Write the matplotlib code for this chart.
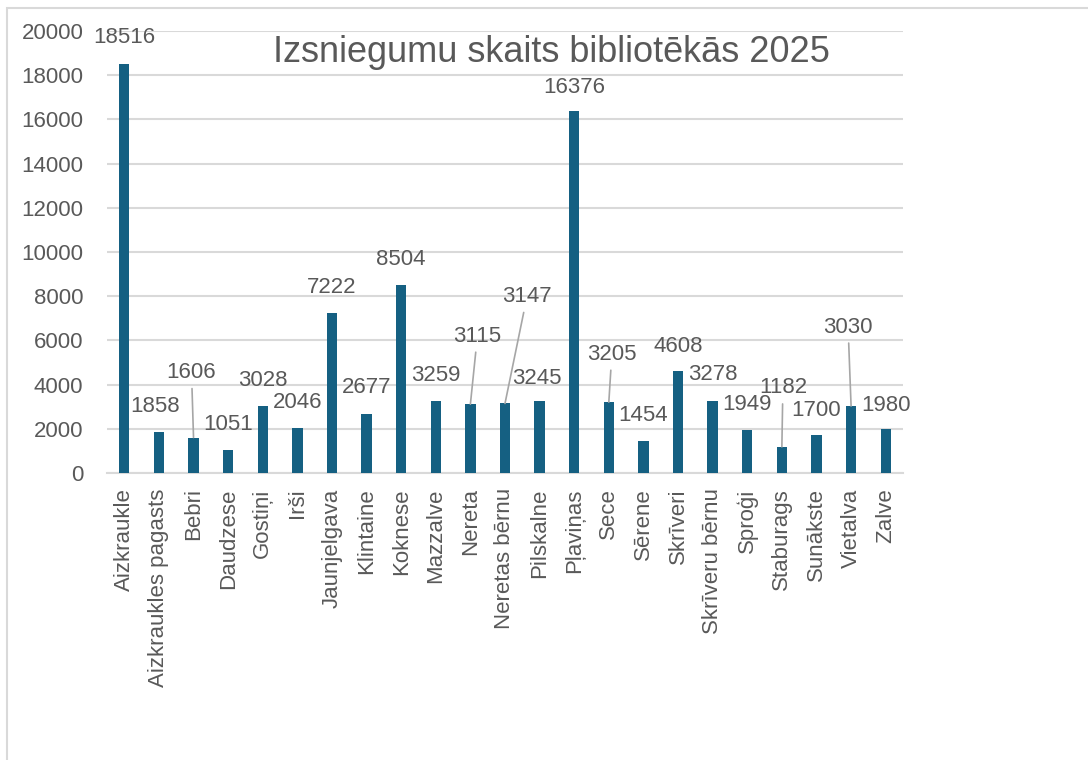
import matplotlib.pyplot as plt
from matplotlib.patches import Rectangle

# Data
libraries = ['Aizkraukle', 'Aizkraukles pagasts', 'Bebri', 'Daudzese', 'Gostiņi', 'Irši',
             'Jaunjelgava', 'Klintaine', 'Koknese', 'Mazzalve', 'Nereta', 'Neretas bērnu',
             'Pilskalne', 'Pļaviņas', 'Sece', 'Sērene', 'Skrīveri', 'Skrīveru bērnu',
             'Sproģi', 'Staburags', 'Sunākste', 'Vietalva', 'Zalve']
loans = [18516, 1858, 1606, 1051, 3028, 2046, 7222, 2677, 8504, 3259, 3115, 3147,
         3245, 16376, 3205, 1454, 4608, 3278, 1949, 1182, 1700, 3030, 1980]
y_ticks = [0, 2000, 4000, 6000, 8000, 10000, 12000, 14000, 16000, 18000, 20000]

# label offsets in pixels (dx, dy) from bar top, and bars whose label has a leader line
label_dx = [0, -4, -2, 0, 0, 0, 0, 0, 0, 0, 7, 22, -3, 0, 3, 0, 0, 0, 0, 1, 0, -3, 0]
label_dy = [26, 25, 65, 25, 26, 25, 26, 26, 26, 25, 68, 107, 23, 24, 48, 25, 25, 26, 25, 59, 25, 79, 24]
leaders = [10, 11, 2, 14, 19, 21]

txt = '#595959'
grid = '#d9d9d9'
bar_color = '#156082'

plt.rcParams['font.family'] = ['Liberation Sans', 'DejaVu Sans']

fig = plt.figure(figsize=(10.88, 7.6), dpi=100)
fig.patches.append(Rectangle((7 / 1088, -0.1), 1.2, (760 - 8) / 760 + 0.1,
                             transform=fig.transFigure, fill=False,
                             edgecolor=grid, linewidth=1.5))

ax = fig.add_axes([107 / 1088, 1 - 473 / 760, (903 - 107) / 1088, (473 - 31) / 760])
x = list(range(len(libraries)))
ax.bar(x, loans, width=0.3, color=bar_color, zorder=3)

ax.set_xlim(-0.5, len(libraries) - 0.5)
ax.set_ylim(0, 20000)
ax.set_yticks(y_ticks)
ax.set_yticklabels([str(t) for t in y_ticks])
ax.set_xticks(x)
ax.set_xticklabels(libraries, rotation=90)
ax.tick_params(axis='y', length=0, pad=17, labelsize=16, labelcolor=txt)
ax.tick_params(axis='x', length=0, pad=11, labelsize=16, labelcolor=txt)
ax.grid(axis='y', color=grid, linewidth=1.5, zorder=0)
for s in ['top', 'right', 'left']:
    ax.spines[s].set_visible(False)
ax.spines['bottom'].set_color(grid)
ax.spines['bottom'].set_linewidth(1.5)

for i, v in enumerate(loans):
    if i in leaders:
        ax.annotate(str(v), xy=(i, v), xytext=(label_dx[i], label_dy[i]),
                    textcoords='offset pixels', ha='center', va='center',
                    fontsize=16, color=txt,
                    arrowprops=dict(arrowstyle='-', color='#a6a6a6', lw=1.2,
                                    shrinkA=2, shrinkB=0))
    else:
        ax.annotate(str(v), xy=(i, v), xytext=(label_dx[i], label_dy[i]),
                    textcoords='offset pixels', ha='center', va='center',
                    fontsize=16, color=txt)

fig.text(551 / 1088, 1 - 52 / 760, 'Izsniegumu skaits bibliotēkās 2025',
         ha='center', va='center', fontsize=26, color=txt)

fig.savefig('out.png', dpi=100)
